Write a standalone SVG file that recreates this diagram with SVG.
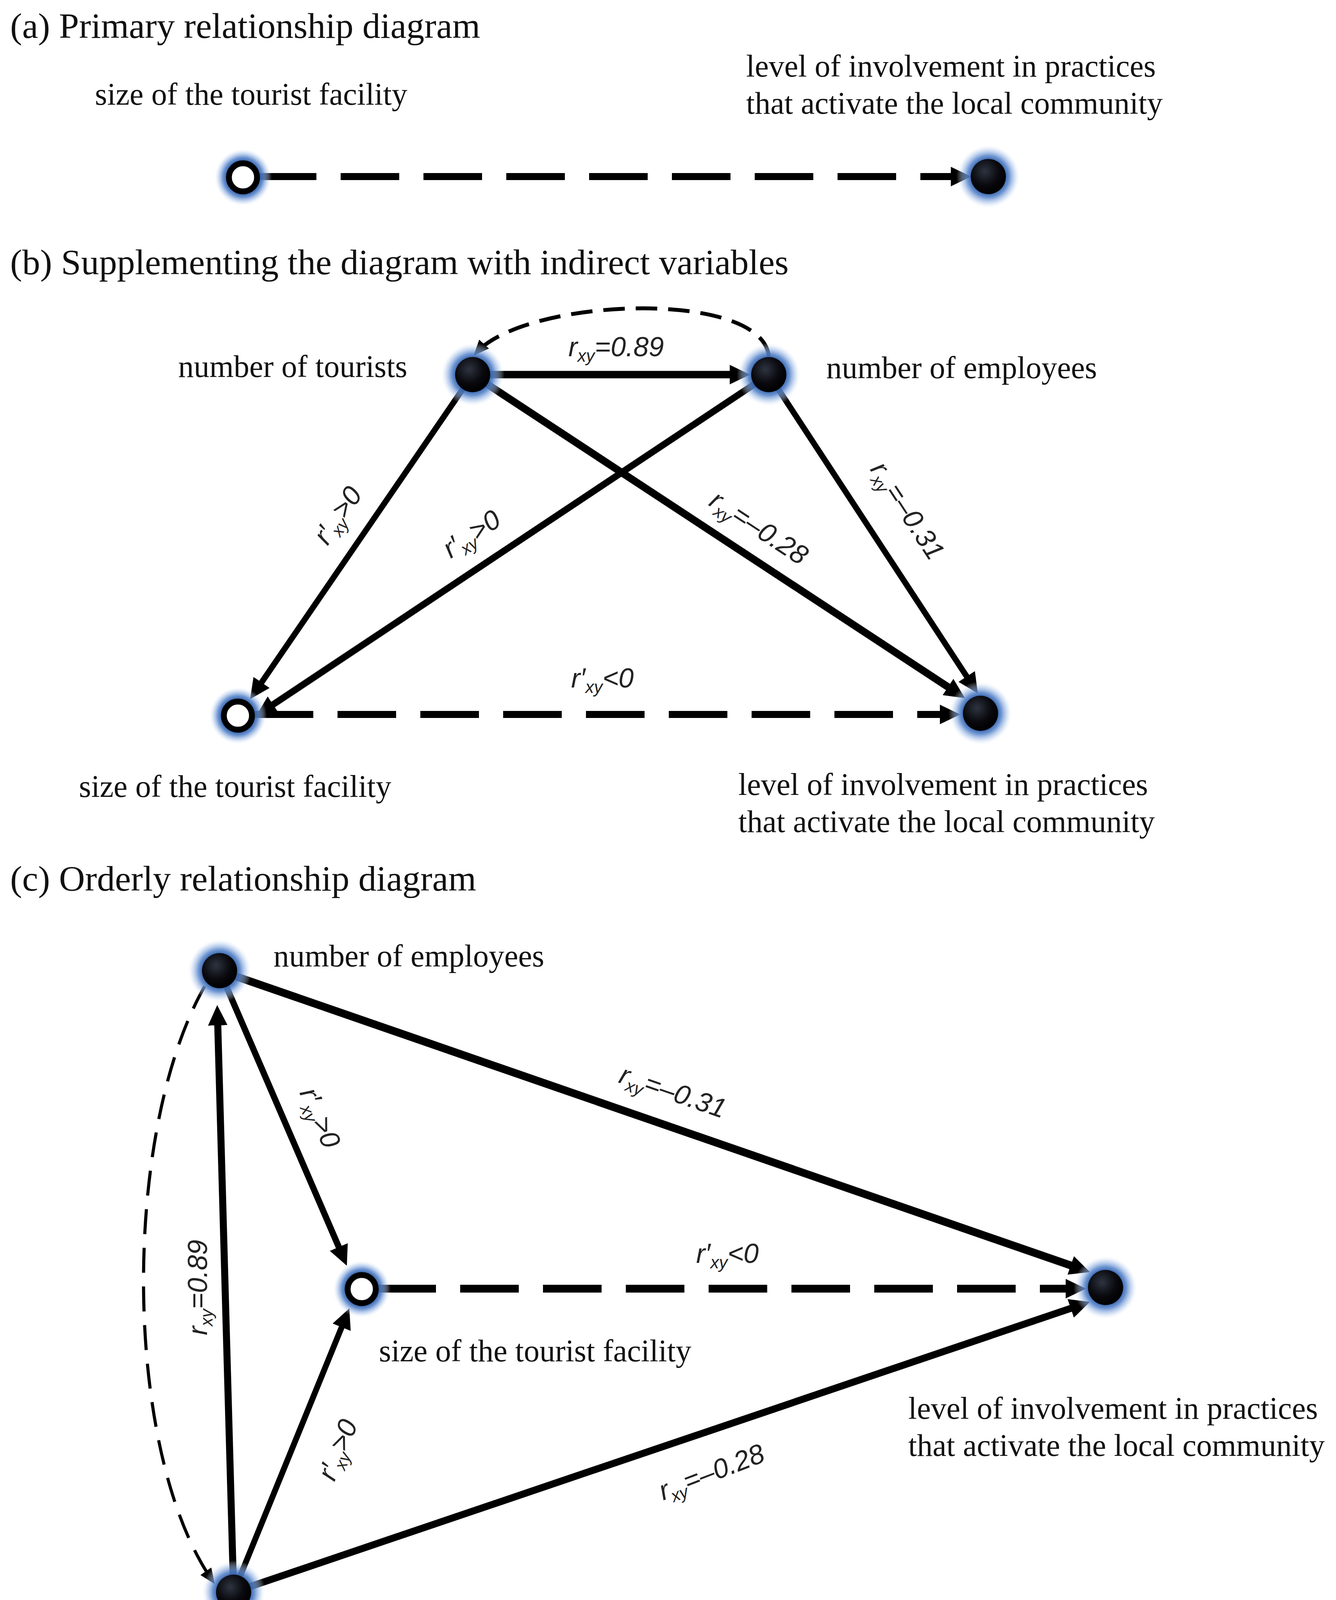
<svg xmlns="http://www.w3.org/2000/svg" width="3420" height="5108" viewBox="0 0 3420 5108">
<style>
.ttl{font-family:'Liberation Serif',serif;font-size:92px;fill:#111}
.lbl{font-family:'Liberation Serif',serif;font-size:80px;fill:#111}
.bold{font-weight:bold}
.el{font-family:'Liberation Sans',sans-serif;font-style:italic;font-size:70px;fill:#222}
.sub{font-size:44px}
.ln{stroke:#000;fill:none;stroke-linecap:butt}
.dsh{stroke-dasharray:150 62}
.nodeB{fill:url(#gB)}
.nodeW{fill:#fff;stroke:#000;stroke-width:15}
</style>
<defs>
<radialGradient id="gF" cx="0.5" cy="0.5" r="0.5">
<stop offset="0.5" stop-color="#2a5aa6"/>
<stop offset="0.66" stop-color="#5a87cc" stop-opacity="0.85"/>
<stop offset="0.84" stop-color="#a9c3ea" stop-opacity="0.45"/>
<stop offset="1" stop-color="#ffffff" stop-opacity="0"/>
</radialGradient>
<radialGradient id="gO" cx="0.5" cy="0.5" r="0.5">
<stop offset="0.55" stop-color="#2a5aa6"/>
<stop offset="0.7" stop-color="#5a87cc" stop-opacity="0.85"/>
<stop offset="0.86" stop-color="#a9c3ea" stop-opacity="0.45"/>
<stop offset="1" stop-color="#ffffff" stop-opacity="0"/>
</radialGradient>
<radialGradient id="gB" cx="0.4" cy="0.35" r="0.65">
<stop offset="0" stop-color="#2e3440"/>
<stop offset="0.6" stop-color="#0a0a0f"/>
<stop offset="1" stop-color="#000"/>
</radialGradient>
<marker id="ah" viewBox="0 0 52 50" markerWidth="52" markerHeight="50" refX="17" refY="25" orient="auto" markerUnits="userSpaceOnUse"><path d="M0,0 L52,25 L0,50 Z" fill="#000"/></marker>
<marker id="ahs" viewBox="0 0 40 34" markerWidth="40" markerHeight="34" refX="30" refY="17" orient="auto" markerUnits="userSpaceOnUse"><path d="M0,0 L40,17 L0,34 Z" fill="#000"/></marker>
</defs>
<rect width="3420" height="5108" fill="#fff"/>

<text class="ttl" x="26" y="97">(a) Primary relationship diagram</text>
<text class="ttl" x="26" y="702">(b) Supplementing the diagram with indirect variables</text>
<text class="ttl" x="26" y="2280">(c) Orderly relationship diagram</text>

<g id="connectors">
<!-- (a) -->
<line class="ln dsh" x1="660" y1="452" x2="2451" y2="452" stroke-width="18" marker-end="url(#ah)"/>
<!-- (b) -->
<line class="ln" x1="1210" y1="959" x2="1885" y2="959" stroke-width="19" marker-end="url(#ah)"/>
<path class="ln" d="M1968,912 C1950,740 1350,760 1219,903" stroke-width="10" stroke-dasharray="55 28" marker-end="url(#ahs)"/>
<line class="ln" x1="1210" y1="959" x2="660" y2="1761" stroke-width="15" marker-end="url(#ah)"/>
<line class="ln" x1="1968" y1="959" x2="685" y2="1813" stroke-width="17" marker-end="url(#ah)"/>
<line class="ln" x1="1210" y1="959" x2="2441" y2="1768" stroke-width="19" marker-end="url(#ah)"/>
<line class="ln" x1="1968" y1="959" x2="2484" y2="1746" stroke-width="15" marker-end="url(#ah)"/>
<line class="ln dsh" x1="652" y1="1829" x2="2423" y2="1829" stroke-width="18" marker-end="url(#ah)"/>
<text class="el" x="1455" y="912">r<tspan class="sub" dy="14">xy</tspan><tspan dy="-14">=0.89</tspan></text>
<text class="el" text-anchor="middle" y="22" transform="translate(866,1320) rotate(-55.4)">r′<tspan class="sub" dy="14">xy</tspan><tspan dy="-14">&gt;0</tspan></text>
<text class="el" text-anchor="middle" y="22" transform="translate(1208,1368) rotate(-33.7)">r′<tspan class="sub" dy="14">xy</tspan><tspan dy="-14">&gt;0</tspan></text>
<text class="el" text-anchor="middle" y="22" transform="translate(1942,1352) rotate(33.4)">r<tspan class="sub" dy="14">xy</tspan><tspan dy="-14">=–0.28</tspan></text>
<text class="el" text-anchor="middle" y="22" transform="translate(2322,1308) rotate(56.8)">r<tspan class="sub" dy="14">xy</tspan><tspan dy="-14">=–0.31</tspan></text>
<text class="el" x="1462" y="1760">r′<tspan class="sub" dy="14">xy</tspan><tspan dy="-14">&lt;0</tspan></text>
<!-- (c) -->
<line class="ln" x1="562" y1="2485" x2="2757" y2="3245" stroke-width="20" marker-end="url(#ah)"/>
<line class="ln" x1="562" y1="2485" x2="874" y2="3208" stroke-width="16" marker-end="url(#ah)"/>
<line class="ln" x1="598" y1="4076" x2="557" y2="2608" stroke-width="18" marker-end="url(#ah)"/>
<line class="ln" x1="598" y1="4076" x2="881" y2="3382" stroke-width="15" marker-end="url(#ah)"/>
<line class="ln" x1="598" y1="4076" x2="2757" y2="3344" stroke-width="18" marker-end="url(#ah)"/>
<line class="ln dsh" x1="966" y1="3299" x2="2745" y2="3299" stroke-width="20" marker-end="url(#ah)"/>
<path class="ln" d="M524,2525 C312,2896 312,3712 544,4047" stroke-width="8" stroke-dasharray="64 35" marker-end="url(#ahs)"/>
<text class="el" text-anchor="middle" y="22" transform="translate(1722,2796) rotate(19.1)">r<tspan class="sub" dy="14">xy</tspan><tspan dy="-14">=–0.31</tspan></text>
<text class="el" text-anchor="middle" y="22" transform="translate(818,2862) rotate(66.6)">r′<tspan class="sub" dy="14">xy</tspan><tspan dy="-14">&gt;0</tspan></text>
<text class="el" text-anchor="middle" y="22" transform="translate(508,3296) rotate(-90)">r<tspan class="sub" dy="14">xy</tspan><tspan dy="-14">=0.89</tspan></text>
<text class="el" text-anchor="middle" y="22" transform="translate(866,3712) rotate(-67.8)">r′<tspan class="sub" dy="14">xy</tspan><tspan dy="-14">&gt;0</tspan></text>
<text class="el" text-anchor="middle" y="22" transform="translate(1822,3770) rotate(-21)">r<tspan class="sub" dy="14">xy</tspan><tspan dy="-14">=–0.28</tspan></text>
<text class="el" x="1782" y="3233">r′<tspan class="sub" dy="14">xy</tspan><tspan dy="-14">&lt;0</tspan></text>
</g>

<!-- (a) nodes -->
<g id="a-size">
<circle cx="622" cy="454" r="74" fill="url(#gO)"/>
<circle class="nodeW" cx="622" cy="454" r="36"/>
<text class="lbl" x="243" y="268">size of the tourist facility</text>
</g>
<g id="a-level">
<circle cx="2530" cy="452" r="82" fill="url(#gF)"/>
<circle class="nodeB" cx="2530" cy="452" r="45"/>
<text class="lbl" x="1910" y="196">level of involvement in practices</text>
<text class="lbl" x="1910" y="291">that activate the local community</text>
</g>

<!-- (b) nodes -->
<g id="b-tourists">
<circle cx="1210" cy="959" r="82" fill="url(#gF)"/>
<circle class="nodeB" cx="1210" cy="959" r="45"/>
<text class="lbl" x="456" y="965">number of tourists</text>
</g>
<g id="b-employees">
<circle cx="1968" cy="959" r="82" fill="url(#gF)"/>
<circle class="nodeB" cx="1968" cy="959" r="45"/>
<text class="lbl" x="2115" y="968">number of employees</text>
</g>
<g id="b-size">
<circle cx="609" cy="1832" r="74" fill="url(#gO)"/>
<circle class="nodeW" cx="609" cy="1832" r="36"/>
<text class="lbl" x="202" y="2040">size of the tourist facility</text>
</g>
<g id="b-level">
<circle cx="2510" cy="1826" r="82" fill="url(#gF)"/>
<circle class="nodeB" cx="2510" cy="1826" r="45"/>
<text class="lbl" x="1890" y="2035">level of involvement in practices</text>
<text class="lbl" x="1890" y="2130">that activate the local community</text>
</g>

<!-- (c) nodes -->
<g id="c-employees">
<circle cx="562" cy="2485" r="82" fill="url(#gF)"/>
<circle class="nodeB" cx="562" cy="2485" r="45"/>
<text class="lbl" x="700" y="2474">number of employees</text>
</g>
<g id="c-size">
<circle cx="926" cy="3300" r="74" fill="url(#gO)"/>
<circle class="nodeW" cx="926" cy="3300" r="36"/>
<text class="lbl" x="970" y="3485">size of the tourist facility</text>
</g>
<g id="c-level">
<circle cx="2830" cy="3296" r="82" fill="url(#gF)"/>
<circle class="nodeB" cx="2830" cy="3296" r="45"/>
<text class="lbl" x="2325" y="3632">level of involvement in practices</text>
<text class="lbl" x="2325" y="3727">that activate the local community</text>
</g>
<g id="c-tourists">
<circle cx="598" cy="4076" r="82" fill="url(#gF)"/>
<circle class="nodeB" cx="598" cy="4076" r="45"/>
<text class="lbl" x="755" y="4175">number of tourists</text>
</g>

<!-- legend -->
<g id="legend">
<text class="lbl bold" x="355" y="4354">Explanations:</text>
<g id="legend-empirical">
<circle cx="422" cy="4540" r="82" fill="url(#gF)"/>
<circle class="nodeB" cx="422" cy="4540" r="45"/>
<text class="lbl" x="598" y="4553">– variables defined by empirical data</text>
</g>
<g id="legend-symptomatic">
<circle cx="422" cy="4722" r="74" fill="url(#gO)"/>
<circle class="nodeW" cx="422" cy="4722" r="36"/>
<text class="lbl" x="598" y="4738">– symptomatic variables (based on other variables)</text>
</g>
<g id="legend-rxy">
<text class="lbl" x="365" y="4900">r<tspan font-size="56" dy="16">xy</tspan></text>
<text class="lbl" x="598" y="4903">– empirically estimated value of the correlation coefficient</text>
</g>
<g id="legend-rpxy">
<text class="lbl" x="365" y="5040">r<tspan font-size="56" dy="16">′xy</tspan></text>
<text class="lbl" x="598" y="5043">– the expected value of the correlation coefficient</text>
</g>
</g>
</svg>
